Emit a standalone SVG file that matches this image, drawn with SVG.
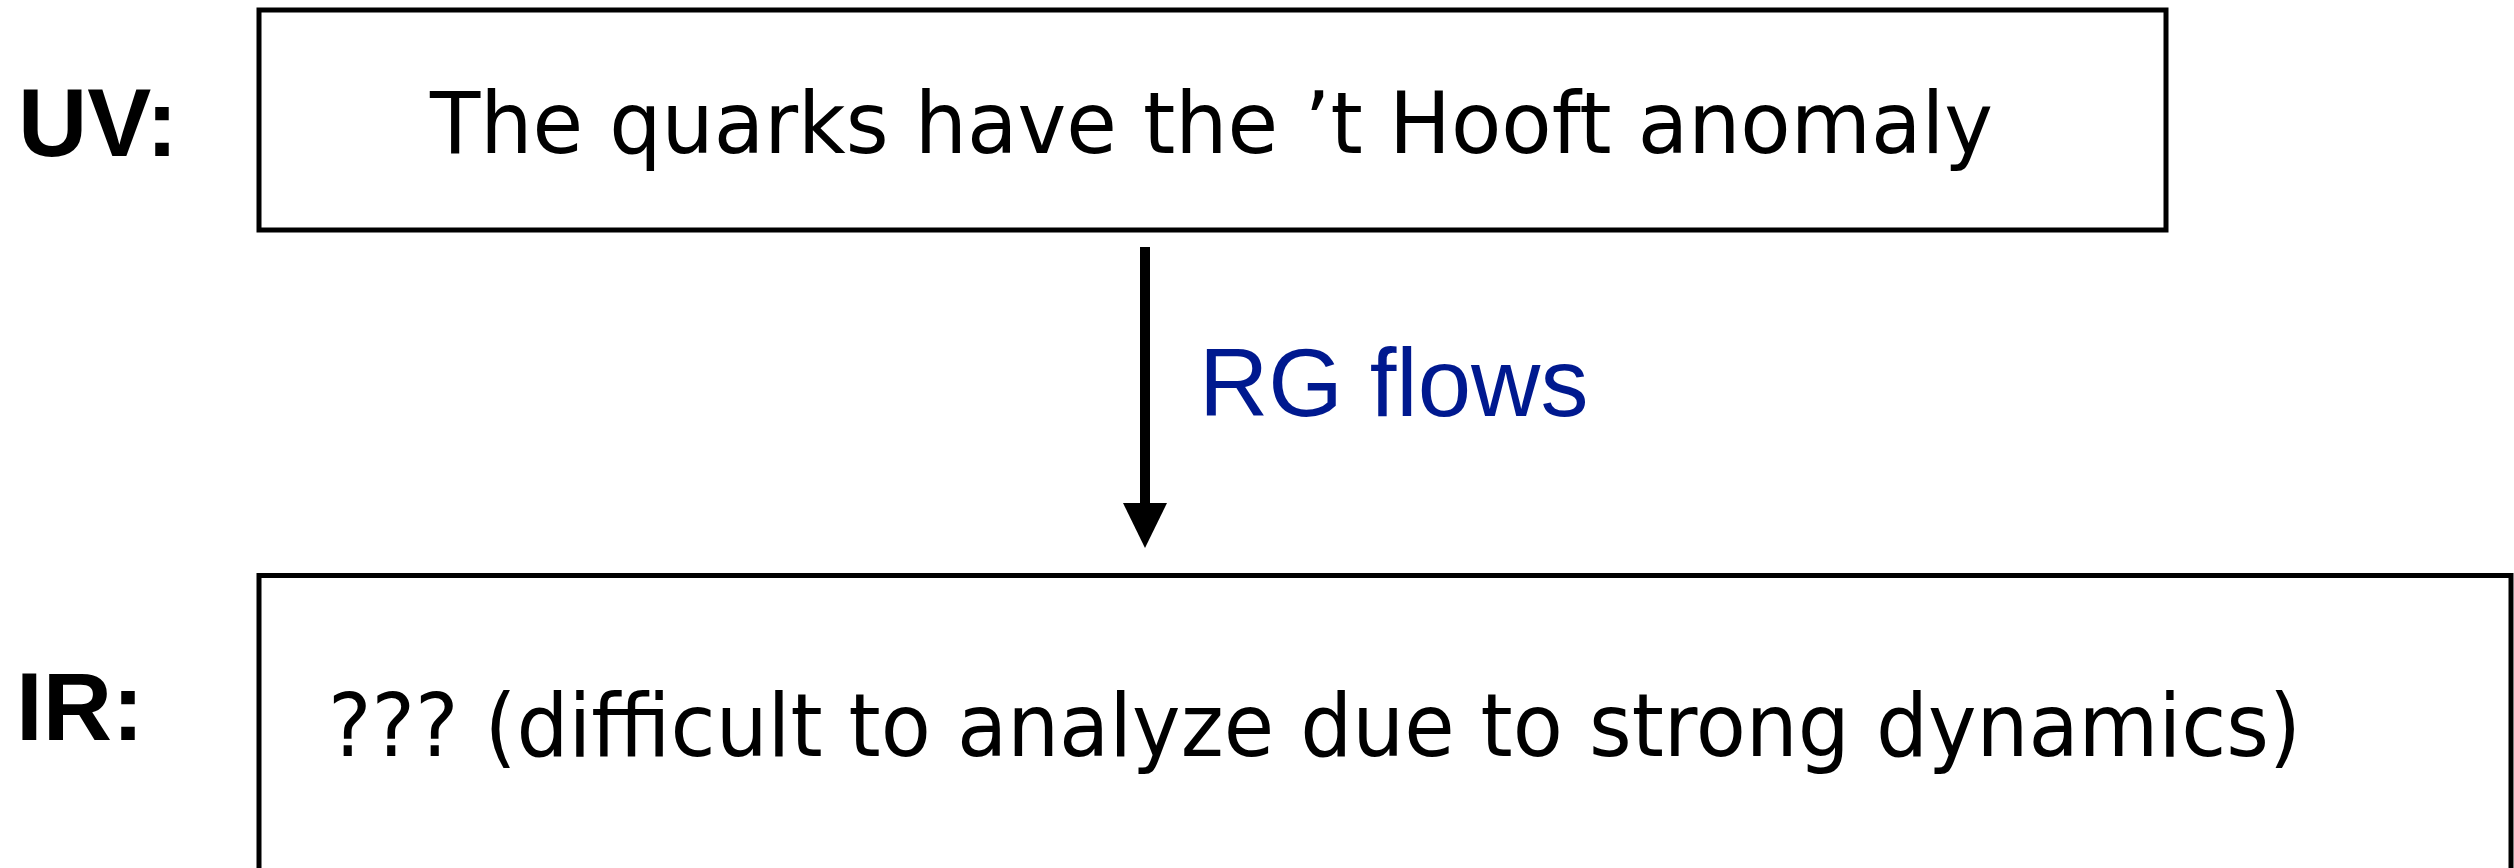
<svg xmlns="http://www.w3.org/2000/svg" width="2514" height="868" viewBox="0 0 2514 868">
  <style>
    .box { fill: #ffffff; stroke: #000000; stroke-width: 5; }
    .label { font-family: "Liberation Sans", Arial, sans-serif; font-weight: bold; font-size: 96px; fill: #000000; }
    .body { font-family: "DejaVu Sans", "Liberation Sans", sans-serif; fill: #000000; }
    .flow { font-family: "Liberation Sans", Arial, sans-serif; font-size: 96px; fill: #00198F; }
    .conn { stroke: #000000; stroke-width: 10; fill: none; }
  </style>
  <defs>
    <marker id="arrowhead" markerUnits="userSpaceOnUse" markerWidth="46" markerHeight="44" viewBox="0 0 46 44" refX="2" refY="22" orient="auto">
      <path d="M0,0 L45,22 L0,44 Z" fill="#000000"/>
    </marker>
  </defs>
  <rect x="0" y="0" width="2514" height="868" fill="#ffffff"/>
  <g id="uv-node">
    <text class="label" x="18" y="156">UV:</text>
    <rect class="box" x="259" y="10" width="1907" height="220"/>
    <text class="body" x="430" y="153" font-size="85" textLength="1563" lengthAdjust="spacingAndGlyphs">The quarks have the ’t Hooft anomaly</text>
  </g>
  <g id="ir-node">
    <text class="label" x="16" y="740">IR:</text>
    <rect class="box" x="259" y="575.5" width="2252" height="400"/>
    <text class="body" x="328" y="756" font-size="88" textLength="1973" lengthAdjust="spacingAndGlyphs">??? (difficult to analyze due to strong dynamics)</text>
  </g>
  <g id="connectors">
    <line class="conn" x1="1145" y1="247" x2="1145" y2="505" marker-end="url(#arrowhead)"/>
    <text class="flow" x="1199" y="416">RG flows</text>
  </g>
</svg>
